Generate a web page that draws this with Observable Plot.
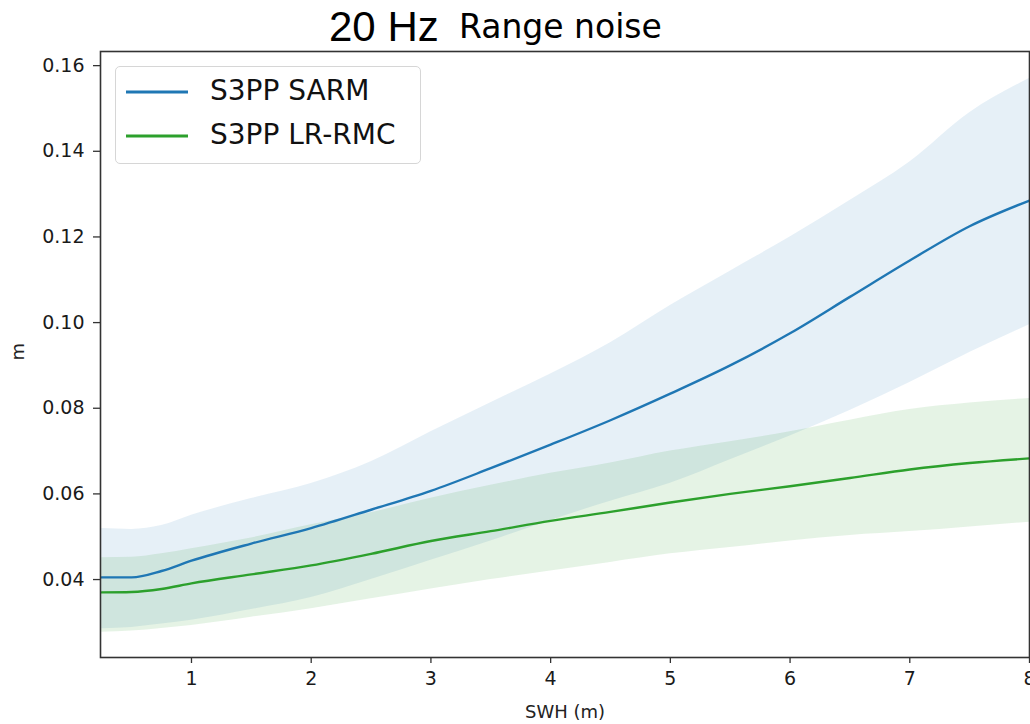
<!DOCTYPE html>
<html>
<head>
<meta charset="utf-8">
<script src="https://cdn.jsdelivr.net/npm/d3@7"></script>
<script src="https://cdn.jsdelivr.net/npm/@observablehq/plot@0.6"></script>
<style>
  html, body { margin: 0; padding: 0; background: #fff; }
  #wrap { position: relative; width: 1030px; height: 724px; overflow: hidden; }
  #title { position: relative; height: 45px; }
  #title span { position: absolute; white-space: nowrap; line-height: 1; color: #000; }
  #t1 { left: 329px; top: 6px; font-family: "Liberation Sans", Arial, sans-serif; font-size: 42px; }
  #t2 { left: 459px; top: 10px; font-family: "DejaVu Sans", sans-serif; font-size: 33px; color: #111; }
  #legend { position: absolute; left: 115px; top: 66px; width: 304px; height: 96px;
            border: 1px solid #d6d6d6; border-radius: 5px; background: rgba(255,255,255,0.85);
            font-family: "DejaVu Sans", sans-serif; font-size: 28px; color: #111; }
  .entry { position: absolute; left: 0; height: 32px; width: 300px; }
  .entry svg { position: absolute; left: 10px; top: 15px; }
  .entry span { position: absolute; left: 94px; top: 0; line-height: 32px; white-space: nowrap; }
</style>
</head>
<body>
<div id="wrap">
  <div id="title"><span id="t1">20 Hz</span><span id="t2">Range noise</span></div>
  <div id="chart"></div>
  <div id="legend"></div>
</div>
<script>
// SWH (m) sample positions
const swh = [0.25, 0.5, 0.75, 1, 1.5, 2, 2.5, 3, 3.5, 4, 4.5, 5, 5.5, 6, 6.5, 7, 7.5, 8];

// S3PP SARM: mean and band
const sarmMean = [0.0405, 0.0405, 0.0420, 0.0444, 0.0484, 0.0520, 0.0563, 0.0607, 0.0660, 0.0715, 0.0772, 0.0834, 0.0900, 0.0975, 0.1060, 0.1145, 0.1225, 0.1285];
const sarmHigh = [0.0519, 0.0517, 0.0526, 0.0550, 0.0589, 0.0624, 0.0675, 0.0745, 0.0813, 0.0880, 0.0953, 0.1040, 0.1120, 0.1200, 0.1285, 0.1375, 0.1490, 0.1570];
const sarmLow  = [0.0285, 0.0288, 0.0296, 0.0305, 0.0330, 0.0358, 0.0400, 0.0445, 0.0490, 0.0538, 0.0583, 0.0625, 0.0680, 0.0735, 0.0795, 0.0860, 0.0930, 0.0995];

// S3PP LR-RMC: mean and band
const lrMean = [0.0370, 0.0371, 0.0378, 0.0391, 0.0412, 0.0433, 0.0460, 0.0490, 0.0513, 0.0537, 0.0558, 0.0580, 0.0600, 0.0618, 0.0637, 0.0657, 0.0672, 0.0683];
const lrHigh = [0.0451, 0.0452, 0.0460, 0.0472, 0.0497, 0.0528, 0.0556, 0.0590, 0.0620, 0.0648, 0.0672, 0.0700, 0.0722, 0.0745, 0.0772, 0.0797, 0.0812, 0.0823];
const lrLow  = [0.0277, 0.0280, 0.0286, 0.0293, 0.0312, 0.0332, 0.0355, 0.0378, 0.0400, 0.0420, 0.0440, 0.0460, 0.0475, 0.0490, 0.0503, 0.0512, 0.0523, 0.0534];

const seriesNames = ["S3PP SARM", "S3PP LR-RMC"];
const seriesColors = ["#1f77b4", "#2ca02c"];
const xTicks = [1, 2, 3, 4, 5, 6, 7, 8];
const yTicks = [0.04, 0.06, 0.08, 0.10, 0.12, 0.14, 0.16];
const xLabel = "SWH (m)";
const yLabel = "m";

const sarm = swh.map((x, i) => ({x, mean: sarmMean[i], lo: sarmLow[i], hi: sarmHigh[i]}));
const lr = swh.map((x, i) => ({x, mean: lrMean[i], lo: lrLow[i], hi: lrHigh[i]}));

const font = "DejaVu Sans, sans-serif";
const axisColor = "#333";

const chart = Plot.plot({
  width: 1030,
  height: 679,
  marginLeft: 100,
  marginRight: 1,
  marginTop: 6,
  marginBottom: 67,
  style: {fontFamily: font, fontSize: "19px", color: "#1a1a1a", background: "#fff"},
  x: {domain: [0.24, 8.0]},
  y: {domain: [0.0218, 0.1633]},
  marks: [
    Plot.areaY(sarm, {x: "x", y1: "lo", y2: "hi", fill: seriesColors[0], fillOpacity: 0.11, curve: "monotone-x"}),
    Plot.areaY(lr, {x: "x", y1: "lo", y2: "hi", fill: seriesColors[1], fillOpacity: 0.12, curve: "monotone-x"}),
    Plot.lineY(sarm, {x: "x", y: "mean", stroke: seriesColors[0], strokeWidth: 2.4, curve: "monotone-x"}),
    Plot.lineY(lr, {x: "x", y: "mean", stroke: seriesColors[1], strokeWidth: 2.4, curve: "monotone-x"}),
    Plot.frame({stroke: axisColor, strokeWidth: 1.6}),
    Plot.axisX({ticks: xTicks, tickSize: 6, tickPadding: 8, label: null, stroke: axisColor, strokeWidth: 1.3, fontSize: 19}),
    Plot.axisY({ticks: yTicks, tickFormat: d3.format(".2f"), tickSize: 7, tickPadding: 9, label: null, stroke: axisColor, strokeWidth: 1.3, fontSize: 19}),
    Plot.text([xLabel], {frameAnchor: "bottom", dy: 60, text: d => d, fontSize: 18, fill: "#222"}),
    Plot.text([yLabel], {frameAnchor: "left", dx: -82, dy: 6, rotate: -90, text: d => d, fontSize: 18, fill: "#222"})
  ]
});
document.getElementById("chart").appendChild(chart);

// Legend
const legend = document.getElementById("legend");
seriesNames.forEach((name, i) => {
  const e = document.createElement("div");
  e.className = "entry";
  e.style.top = (8 + i * 44) + "px";
  e.innerHTML = `<svg width="64" height="4"><line x1="0" y1="2" x2="62" y2="2" stroke="${seriesColors[i]}" stroke-width="3"/></svg><span>${name}</span>`;
  legend.appendChild(e);
});
</script>
</body>
</html>
